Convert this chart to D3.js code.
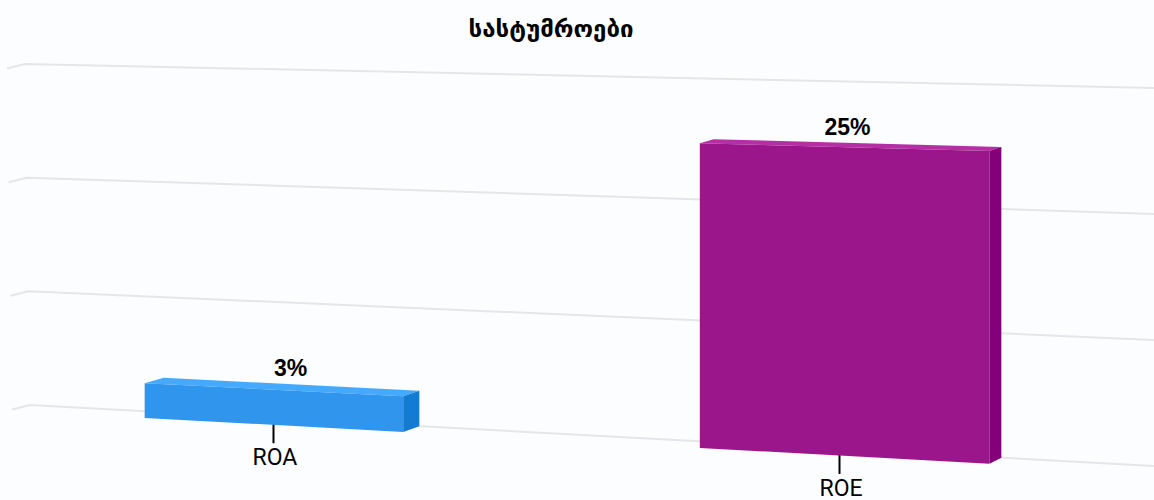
<!DOCTYPE html>
<html>
<head>
<meta charset="utf-8">
<script src="https://cdn.jsdelivr.net/npm/d3@7"></script>
<style>
    html, body { margin: 0; padding: 0; background: #fcfdff; }
    svg { display: block; }
</style>
</head>
<body>
<div id="chart"></div>
<script>
//chart data
var chartTitle = "სასტუმროები";
var categories = ["ROA", "ROE"];
var seriesValues = [3, 25];
var valueLabels = ["3%", "25%"];
var gridValues = [0, 10, 20, 30];

//colours of each bar, front / top / side
var frontColors = ["#2f95ed", "#9c168b"];
var topColors = ["#45a9ff", "#b52ea4"];
var sideColors = ["#147bd3", "#83007a"];

//svg dimensions
var svgW = 1154;
var svgH = 500;

var svg = d3.select("#chart").append("svg")
    .attr("width", svgW)
    .attr("height", svgH);

svg.append("rect")
    .attr("width", svgW)
    .attr("height", svgH)
    .attr("fill", "#fcfdff");

//band scale along the back wall
var xBand = d3.scaleBand()
    .domain(categories)
    .range([8.5, 1140.5])
    .paddingInner(0.52)
    .paddingOuter(0.26);

//bars get wider towards the viewer side
var widthFactor = d3.scaleLinear().domain([291.5, 857.5]).range([0.941, 1.059]);

//the back wall is tilted, so a value has one y on the left edge and another on the right
var wallLeftX = d3.scaleLinear().domain([0, 30]).range([30, 25]);
var wallRightX = svgW;
var yLeft = d3.scaleLinear().domain([0, 30]).range([405, 64]);
var yRight = d3.scaleLinear().domain([0, 30]).range([466, 88]);

function wallY(x, value) {
    var t = (x - wallLeftX(value)) / (wallRightX - wallLeftX(value));
    return yLeft(value) + t * (yRight(value) - yLeft(value));
}

//offset from the back plane of a bar to its front plane
var depthX = d3.scaleSqrt().domain([164, 1000]).range([-19, -12]).clamp(true);
var depthY = d3.scaleLinear().domain([140, 460]).range([4, 6]).clamp(true);

function toFront(p) {
    return [p[0] + depthX(p[0]), p[1] + depthY(p[1])];
}

var line = d3.line();

//gridlines, with the short stub of the side wall on the left
var gridGroup = svg.append("g");

gridGroup.selectAll("path")
    .data(gridValues)
    .enter()
    .append("path")
    .attr("d", d => line([
        [wallLeftX(d) - 18, yLeft(d) + 4.5],
        [wallLeftX(d), yLeft(d)],
        [wallRightX, yRight(d)]
    ]))
    .attr("fill", "none")
    .attr("stroke", "#e6e6e6")
    .attr("stroke-width", 2);

//title
svg.append("text")
    .attr("x", 551)
    .attr("y", 37)
    .attr("text-anchor", "middle")
    .attr("font-family", "'DejaVu Sans', sans-serif")
    .attr("font-weight", "bold")
    .attr("font-size", "24px")
    .attr("fill", "#000")
    .text(chartTitle);

//axis ticks and labels
var tickX = d => xBand(d) + xBand.bandwidth() / 2 - 18;

var axisGroup = svg.append("g");

axisGroup.selectAll("line")
    .data(categories)
    .enter()
    .append("line")
    .attr("x1", tickX)
    .attr("x2", tickX)
    .attr("y1", d => wallY(tickX(d), 0) + 5)
    .attr("y2", d => wallY(tickX(d), 0) + 25)
    .attr("stroke", "#000")
    .attr("stroke-width", 2);

axisGroup.selectAll("text")
    .data(categories)
    .enter()
    .append("text")
    .attr("x", d => tickX(d) + 1.5)
    .attr("y", d => wallY(tickX(d), 0) + 47)
    .attr("text-anchor", "middle")
    .attr("font-family", "Roboto, sans-serif")
    .attr("font-size", "23px")
    .attr("fill", "#000")
    .text(d => d);

//3d columns
var labelX = d3.scaleLinear().domain([291.5, 857.5]).range([290.5, 847.5]);

categories.forEach(function(cat, i) {
    var center = xBand(cat) + xBand.bandwidth() / 2;
    var half = xBand.bandwidth() * widthFactor(center) / 2;
    var x0 = center - half;
    var x1 = center + half;
    var value = seriesValues[i];

    //back plane corners
    var backTL = [x0, wallY(x0, value)];
    var backTR = [x1, wallY(x1, value)];
    var backBL = [x0, wallY(x0, 0)];
    var backBR = [x1, wallY(x1, 0)];

    var bar = svg.append("g");

    //top face
    bar.append("path")
        .attr("d", line([backTL, backTR, toFront(backTR), toFront(backTL)]) + "Z")
        .attr("fill", topColors[i]);

    //side face
    bar.append("path")
        .attr("d", line([backTR, backBR, toFront(backBR), toFront(backTR)]) + "Z")
        .attr("fill", sideColors[i]);

    //front face
    bar.append("path")
        .attr("d", line([toFront(backTL), toFront(backTR), toFront(backBR), toFront(backBL)]) + "Z")
        .attr("fill", frontColors[i]);

    //value label
    svg.append("text")
        .attr("x", labelX(center))
        .attr("y", wallY(center, value) - 8)
        .attr("text-anchor", "middle")
        .attr("font-family", "'Liberation Sans', sans-serif")
        .attr("font-weight", "bold")
        .attr("font-size", "23px")
        .attr("fill", "#000")
        .text(valueLabels[i]);
});
</script>
</body>
</html>
